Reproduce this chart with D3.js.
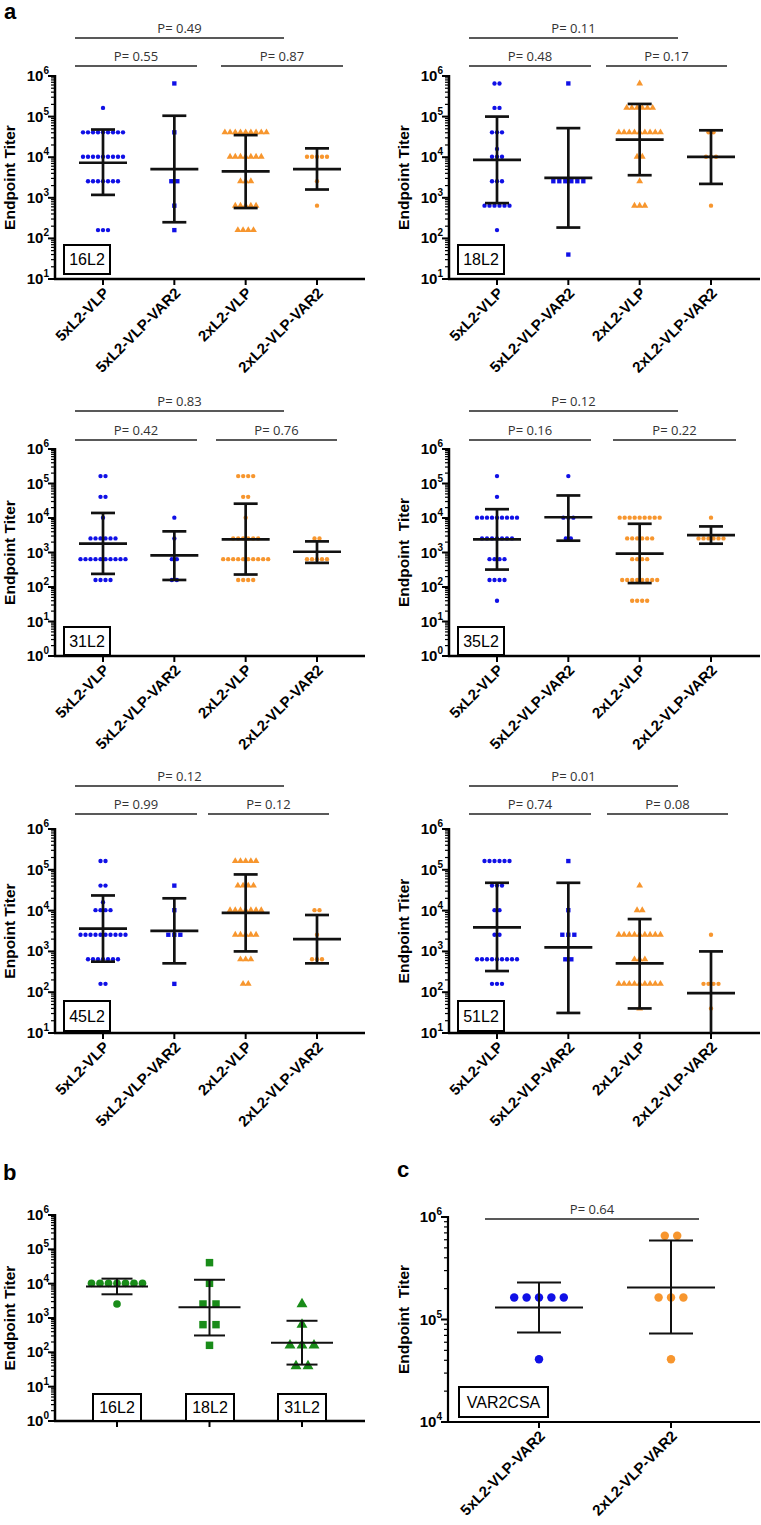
<!DOCTYPE html>
<html><head><meta charset="utf-8">
<script src="https://cdn.jsdelivr.net/npm/d3@7"></script>
<style>body{margin:0;background:#fff}</style>
</head><body>
<script>
// ---------- DATA ----------
const groupsA = ["5xL2-VLP", "5xL2-VLP-VAR2", "2xL2-VLP", "2xL2-VLP-VAR2"];
const groupsB = ["16L2", "18L2", "31L2"];
const groupsC = ["5xL2-VLP-VAR2", "2xL2-VLP-VAR2"];

// points as [titer, number of animals] per group
const pts16L2 = [
  [[163840,1],[40960,9],[10240,9],[2560,7],[160,3]],
  [[655360,1],[40960,1],[2560,2],[640,1],[160,1]],
  [[40960,9],[10240,7],[2560,3],[640,5],[160,4]],
  [[10240,5],[2560,1],[640,1]]
];
const mean16L2 = [7300, 5100, 4500, 5100];
const hi16L2 = [48000, 105000, 35000, 16500];
const lo16L2 = [1180, 250, 560, 1600];
const p16L2 = ["P= 0.49", "P= 0.55", "P= 0.87"];

const pts18L2 = [
  [[655360,2],[163840,2],[40960,3],[16000,1],[10240,3],[2560,3],[640,6],[160,1]],
  [[655360,1],[2560,6],[40,1]],
  [[655360,1],[163840,6],[40960,9],[10240,2],[2560,1],[640,3]],
  [[40960,2],[10240,3],[640,1]]
];
const mean18L2 = [8600, 3100, 27000, 10200];
const hi18L2 = [100000, 52000, 205000, 46000];
const lo18L2 = [740, 185, 3600, 2200];
const p18L2 = ["P= 0.11", "P= 0.48", "P= 0.17"];

const pts31L2 = [
  [[163840,2],[40960,2],[10240,1],[2560,6],[640,10],[160,4]],
  [[10240,1],[2560,1],[640,2],[160,2]],
  [[163840,4],[40960,2],[10240,1],[2560,6],[640,10],[160,4]],
  [[2560,2],[640,5]]
];
const mean31L2 = [1800, 830, 2400, 1050];
const hi31L2 = [14000, 4100, 26000, 2100];
const lo31L2 = [240, 160, 230, 500];
const p31L2 = ["P= 0.83", "P= 0.42", "P= 0.76"];

const pts35L2 = [
  [[163840,1],[40960,1],[10240,9],[2560,7],[640,4],[160,4],[40,1]],
  [[163840,1],[10240,3],[2560,2]],
  [[10240,9],[2560,6],[640,4],[160,8],[40,4]],
  [[10240,1],[2560,6]]
];
const mean35L2 = [2400, 10500, 930, 3200];
const hi35L2 = [18000, 45000, 6800, 5700];
const lo35L2 = [320, 2200, 130, 1800];
const p35L2 = ["P= 0.12", "P= 0.16", "P= 0.22"];

const pts45L2 = [
  [[163840,2],[40960,2],[16000,1],[10240,4],[2560,10],[640,7],[160,2]],
  [[40960,1],[10240,1],[2560,3],[160,1]],
  [[163840,5],[40960,4],[10240,7],[2560,5],[640,3],[160,2]],
  [[10240,2],[2560,1],[640,3]]
];
const mean45L2 = [3600, 3200, 8800, 2000];
const hi45L2 = [23500, 20000, 77000, 7800];
const lo45L2 = [560, 510, 1000, 510];
const p45L2 = ["P= 0.12", "P= 0.99", "P= 0.12"];

const pts51L2 = [
  [[163840,6],[40960,3],[10240,2],[2560,2],[640,9],[160,3]],
  [[163840,1],[10240,1],[2560,3],[640,2]],
  [[40960,1],[10240,2],[2560,9],[640,3],[160,9],[40,1]],
  [[2560,1],[160,4],[40,1]]
];
const mean51L2 = [3900, 1250, 510, 95];
const hi51L2 = [48000, 48000, 6200, 1000];
const lo51L2 = [330, 31, 40, 8];
const p51L2 = ["P= 0.01", "P= 0.74", "P= 0.08"];

const ptsB = [
  [[10240,7],[2560,1]],
  [[40960,1],[10240,1],[2560,2],[640,2],[160,1]],
  [[2560,1],[640,1],[160,3],[40,2]]
];
const meanB = [8300, 2050, 190];
const hiB = [14000, 13000, 830];
const loB = [4900, 310, 44];

const ptsC = [
  [[163840,5],[40960,1]],
  [[655360,2],[163840,3],[40960,1]]
];
const meanC = [131000, 205000];
const hiC = [229000, 590000];
const loC = [74600, 73000];
const pC = ["P= 0.64"];

// ---------- STYLE ----------
const BLUE = "#1010e6", ORANGE = "#f7962e", GREEN = "#198c19";
const FONT = "'Liberation Sans', Arial, sans-serif";

const svg = d3.select("body").append("svg")
  .attr("width", 761).attr("height", 1525)
  .style("font-family", FONT);

const symMap = {circle: d3.symbolCircle, square: d3.symbolSquare, triangle: d3.symbolTriangle};

function drawPanel(c) {
  const g = svg.append("g");
  const y = d3.scaleLog().domain(c.domain).range([c.bottom, c.top]);
  const x = d3.scalePoint().domain(c.groups).range(c.catRange);

  // brackets
  c.brackets.forEach((b, i) => {
    g.append("line").attr("x1", b[0]).attr("x2", b[1]).attr("y1", b[2]).attr("y2", b[2])
      .attr("stroke", "#222").attr("stroke-width", 1.3);
    g.append("text").attr("x", (b[0] + b[1]) / 2).attr("y", b[2] - 5)
      .attr("text-anchor", "middle").style("font", "13px 'Open Sans', sans-serif")
      .attr("fill", "#333").text(c.pvals[i]);
  });

  // y axis
  const [lo, hi] = c.domain;
  const k0 = Math.round(Math.log10(lo)), k1 = Math.round(Math.log10(hi));
  for (let k = k0; k < k1; k++) {
    for (let m = 2; m <= 9; m++) {
      const v = m * Math.pow(10, k);
      g.append("line").attr("x1", c.ax - 4).attr("x2", c.ax).attr("y1", y(v)).attr("y2", y(v))
        .attr("stroke", "#000").attr("stroke-width", 1.2);
    }
  }
  for (let k = k0; k <= k1; k++) {
    const v = Math.pow(10, k);
    g.append("line").attr("x1", c.ax - 7).attr("x2", c.ax).attr("y1", y(v)).attr("y2", y(v))
      .attr("stroke", "#000").attr("stroke-width", 2);
    const t = g.append("text").attr("x", c.ax - 6).attr("y", y(v) + 5)
      .attr("text-anchor", "end").style("font", "bold 15px " + FONT);
    t.append("tspan").text("10");
    t.append("tspan").attr("dy", -7).style("font-size", "10px").text(k);
  }
  g.append("line").attr("x1", c.ax).attr("x2", c.ax).attr("y1", c.top - 1).attr("y2", c.bottom + 1)
    .attr("stroke", "#000").attr("stroke-width", c.axw);
  g.append("line").attr("x1", c.ax - 1).attr("x2", c.xr).attr("y1", c.bottom).attr("y2", c.bottom)
    .attr("stroke", "#000").attr("stroke-width", c.axw);

  // x ticks + labels
  c.groups.forEach(gr => {
    g.append("line").attr("x1", x(gr)).attr("x2", x(gr)).attr("y1", c.bottom).attr("y2", c.bottom + 6)
      .attr("stroke", "#000").attr("stroke-width", 2);
    if (c.rotLabels) {
      g.append("text").attr("text-anchor", "end")
        .attr("transform", `translate(${x(gr) + 7},${c.bottom + 15}) rotate(-45)`)
        .style("font", "bold 15px " + FONT).text(gr);
    }
  });

  // y label
  g.append("text").attr("text-anchor", "middle").style("white-space", "pre")
    .attr("transform", `translate(${c.ylx},${(c.top + c.bottom) / 2}) rotate(-90)`)
    .style("font", "bold 15.5px " + FONT).text(c.ylabel);

  // points
  c.groups.forEach((gr, gi) => {
    const sym = d3.symbol(symMap[c.shapes[gi]], c.msize[c.shapes[gi]]);
    const sp = c.spacing[c.shapes[gi]];
    c.pts[gi].forEach(([v, n]) => {
      for (let i = 0; i < n; i++) {
        const px = x(gr) + (i - (n - 1) / 2) * sp;
        g.append("path").attr("d", sym()).attr("fill", c.colors[gi])
          .attr("transform", `translate(${px},${y(v)})`);
      }
    });
  });

  // mean + SD bars
  c.groups.forEach((gr, gi) => {
    const cx = x(gr);
    const yl = Math.min(y(Math.max(c.lo[gi], lo)), c.bottom);
    const yh = y(c.hi[gi]);
    const ym = y(c.mean[gi]);
    const st = (sel) => sel.attr("stroke", "#111").attr("stroke-width", c.lw);
    st(g.append("line").attr("x1", cx).attr("x2", cx).attr("y1", yl).attr("y2", yh));
    st(g.append("line").attr("x1", cx - c.meanW / 2).attr("x2", cx + c.meanW / 2).attr("y1", ym).attr("y2", ym));
    st(g.append("line").attr("x1", cx - c.capW / 2).attr("x2", cx + c.capW / 2).attr("y1", yh).attr("y2", yh));
    if (c.lo[gi] >= lo)
      st(g.append("line").attr("x1", cx - c.capW / 2).attr("x2", cx + c.capW / 2).attr("y1", yl).attr("y2", yl));
  });

  // label boxes
  c.boxes.forEach(b => {
    g.append("rect").attr("x", b[0]).attr("y", b[1]).attr("width", b[2]).attr("height", b[3])
      .attr("fill", "#fff").attr("stroke", "#000").attr("stroke-width", 2);
    g.append("text").attr("x", b[0] + b[2] / 2).attr("y", b[1] + b[3] / 2 + 5.5)
      .attr("text-anchor", "middle").style("font", "16px " + FONT).text(b[4]);
  });
}

const aSize = {circle: 15, square: 19, triangle: 20};
const aSp = {circle: 5, square: 6, triangle: 5.2};
const shapesTri = ["circle", "square", "triangle", "circle"];
const shapesDot = ["circle", "circle", "circle", "circle"];
const colA = [BLUE, BLUE, ORANGE, ORANGE];

function aPanel(side, row, pts, mean, hi, lo, pv, shapes, ylabel, boxLabel, rBr) {
  const rows = [
    {top: 76, bottom: 279, domain: [10, 1e6], by: [38, 66], box: [245, 29]},
    {top: 449, bottom: 656, domain: [1, 1e6], by: [411, 440], box: [627, 28]},
    {top: 829, bottom: 1033, domain: [10, 1e6], by: [786, 814], box: [1001, 30]}
  ][row];
  const ax = side === 0 ? 55 : 449;
  drawPanel({
    groups: groupsA, ax, xr: side === 0 ? 365 : 760, top: rows.top, bottom: rows.bottom,
    domain: rows.domain, catRange: [ax + 48, ax + 262], axw: 2.5,
    brackets: [[ax + 20, ax + 229, rows.by[0]], [ax + 20, ax + 142, rows.by[1]], [rBr[0], rBr[1], rows.by[1]]],
    pvals: pv, rotLabels: true, ylx: side === 0 ? 15 : 409, ylabel,
    pts, mean, hi, lo, shapes, colors: colA, msize: aSize, spacing: aSp,
    meanW: 48, capW: 24, lw: 2.7,
    boxes: [[ax + 9, rows.box[0], 46, rows.box[1], boxLabel]]
  });
}

aPanel(0, 0, pts16L2, mean16L2, hi16L2, lo16L2, p16L2, shapesTri, "Endpoint Titer", "16L2", [221, 343]);
aPanel(1, 0, pts18L2, mean18L2, hi18L2, lo18L2, p18L2, shapesTri, "Endpoint Titer", "18L2", [606, 727]);
aPanel(0, 1, pts31L2, mean31L2, hi31L2, lo31L2, p31L2, shapesDot, "Endpoint Titer", "31L2", [216, 337]);
aPanel(1, 1, pts35L2, mean35L2, hi35L2, lo35L2, p35L2, shapesDot, "Endpoint  Titer", "35L2", [613, 736]);
aPanel(0, 2, pts45L2, mean45L2, hi45L2, lo45L2, p45L2, shapesTri, "Enpoint Titer", "45L2", [208, 329]);
aPanel(1, 2, pts51L2, mean51L2, hi51L2, lo51L2, p51L2, shapesTri, "Endpoint Titer", "51L2", [607, 728]);

// panel b
drawPanel({
  groups: groupsB, ax: 55, xr: 365, top: 1215, bottom: 1421, domain: [1, 1e6],
  catRange: [117, 302], axw: 2.5, brackets: [], pvals: [], rotLabels: false,
  ylx: 15, ylabel: "Endpoint Titer",
  pts: ptsB, mean: meanB, hi: hiB, lo: loB, shapes: ["circle", "square", "triangle"],
  colors: [GREEN, GREEN, GREEN],
  msize: {circle: 46, square: 56, triangle: 52}, spacing: {circle: 8.5, square: 13, triangle: 12},
  meanW: 62, capW: 31, lw: 2,
  boxes: [[93, 1394, 48, 27, "16L2"], [186, 1394, 48, 27, "18L2"], [278, 1394, 48, 27, "31L2"]]
});

// panel c
drawPanel({
  groups: groupsC, ax: 448, xr: 760, top: 1217, bottom: 1422, domain: [1e4, 1e6],
  catRange: [539, 671], axw: 2.2, brackets: [[485, 699, 1219]], pvals: pC, rotLabels: true,
  ylx: 409, ylabel: "Endpoint  Titer",
  pts: ptsC, mean: meanC, hi: hiC, lo: loC, shapes: ["circle", "circle"],
  colors: [BLUE, ORANGE],
  msize: {circle: 56}, spacing: {circle: 12.4},
  meanW: 88, capW: 44, lw: 2,
  boxes: [[459, 1387, 89, 30, "VAR2CSA"]]
});

// panel letters
[["a", 4, 19], ["b", 3, 1180], ["c", 397, 1177]].forEach(([t, px, py]) => {
  svg.append("text").attr("x", px).attr("y", py).style("font", "bold 22px " + FONT).text(t);
});
</script>
</body></html>
